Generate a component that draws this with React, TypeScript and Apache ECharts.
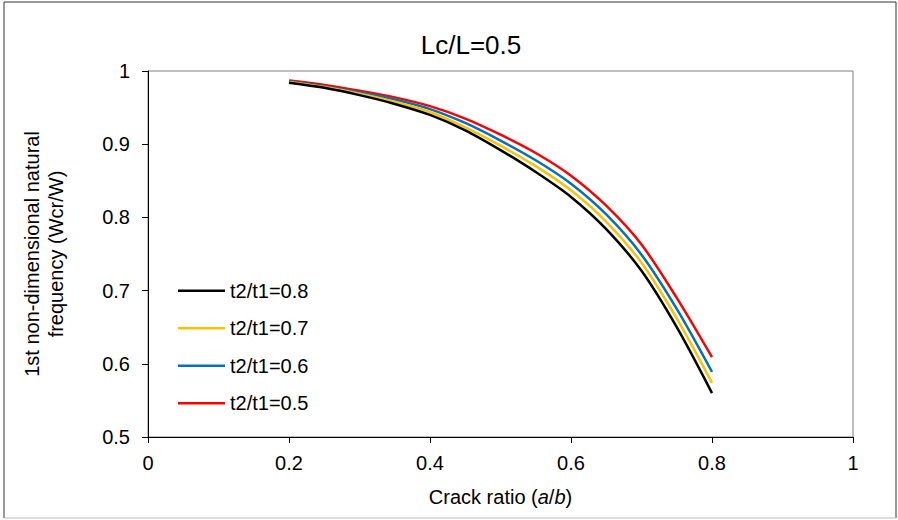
import React, { useEffect, useRef } from "react";
import * as echarts from "echarts";

const crackRatio = [0.2, 0.25, 0.3, 0.35, 0.4, 0.45, 0.5, 0.55, 0.6, 0.65, 0.7, 0.75, 0.8];
const seriesNames = ["t2/t1=0.8", "t2/t1=0.7", "t2/t1=0.6", "t2/t1=0.5"];
const t08 = [0.984, 0.977, 0.967, 0.955, 0.940, 0.919, 0.892, 0.862, 0.828, 0.784, 0.727, 0.65, 0.56];
const t07 = [0.985, 0.978, 0.969, 0.958, 0.944, 0.923, 0.898, 0.870, 0.837, 0.794, 0.738, 0.662, 0.574];
const t06 = [0.986, 0.979, 0.971, 0.961, 0.948, 0.929, 0.905, 0.878, 0.846, 0.804, 0.749, 0.675, 0.589];
const t05 = [0.987, 0.981, 0.973, 0.964, 0.952, 0.935, 0.913, 0.888, 0.857, 0.816, 0.763, 0.69, 0.609];
const colors = ["#000000", "#FFC000", "#0070C0", "#FF0000"];
const xTicks = { min: 0, max: 1, interval: 0.2 };
const yTicks = { min: 0.5, max: 1, interval: 0.1 };

const FONT = "'Liberation Sans', Arial, sans-serif";

export default function App() {
  const ref = useRef<HTMLDivElement>(null);
  useEffect(() => {
    if (!ref.current) return;
    const chart = echarts.init(ref.current, undefined, { renderer: "svg" });
    const all = [t08, t07, t06, t05];
    chart.setOption({
      animation: false,
      backgroundColor: "#ffffff",
      textStyle: { fontFamily: FONT },
      grid: {
        left: 148,
        right: 45,
        top: 71,
        bottom: 83,
        show: true,
        borderColor: "#808080",
        borderWidth: 1,
      },
      graphic: [
        { type: "line", shape: { x1: 4, y1: 2, x2: 896, y2: 2 }, style: { stroke: "#333", lineWidth: 1 } },
        { type: "line", shape: { x1: 4, y1: 2, x2: 4, y2: 518 }, style: { stroke: "#333", lineWidth: 1 } },
        { type: "line", shape: { x1: 896, y1: 2, x2: 896, y2: 518 }, style: { stroke: "#333", lineWidth: 1 } },
        { type: "line", shape: { x1: 4, y1: 518, x2: 896, y2: 518 }, style: { stroke: "#bbb", lineWidth: 1 } },
        {
          type: "text",
          x: 471,
          y: 45,
          style: {
            text: "Lc/L=0.5",
            fontSize: 26,
            fontFamily: FONT,
            fill: "#000",
            textAlign: "center",
            textVerticalAlign: "middle",
          },
        },
      ],
      legend: {
        orient: "vertical",
        left: 178,
        top: 279,
        icon: "rect",
        itemWidth: 47,
        itemHeight: 2.5,
        itemGap: 14,
        padding: 0,
        data: seriesNames,
        textStyle: { fontSize: 20, color: "#000", fontFamily: FONT, lineHeight: 23.5 },
      },
      xAxis: {
        type: "value",
        min: xTicks.min,
        max: xTicks.max,
        interval: xTicks.interval,
        name: "Crack ratio ({i|a}/{i|b})",
        nameLocation: "middle",
        nameGap: 50,
        nameTextStyle: {
          fontSize: 20,
          color: "#000",
          fontFamily: FONT,
          rich: { i: { fontStyle: "italic", fontSize: 20, fontFamily: FONT, color: "#000" } },
        },
        axisLine: { show: true, lineStyle: { color: "#000", width: 1 } },
        axisTick: { show: true, inside: false, length: 6, lineStyle: { color: "#000" } },
        axisLabel: { fontSize: 20, color: "#000", margin: 16, fontFamily: FONT },
        splitLine: { show: false },
      },
      yAxis: {
        type: "value",
        min: yTicks.min,
        max: yTicks.max,
        interval: yTicks.interval,
        name: "1st non-dimensional natural\nfrequency (Wcr/W)",
        nameLocation: "middle",
        nameGap: 80,
        nameTextStyle: { fontSize: 20, color: "#000", lineHeight: 24, fontFamily: FONT },
        axisLine: { show: true, lineStyle: { color: "#000", width: 1 } },
        axisTick: { show: true, inside: false, length: 6, lineStyle: { color: "#000" } },
        axisLabel: { fontSize: 20, color: "#000", margin: 18, fontFamily: FONT },
        splitLine: { show: false },
      },
      series: seriesNames.map((name, i) => ({
        name,
        type: "line",
        smooth: 0.3,
        symbol: "none",
        lineStyle: { color: colors[i], width: 2.5 },
        itemStyle: { color: colors[i] },
        z: 10 - i,
        data: crackRatio.map((x, j) => [x, all[i][j]]),
      })),
    });
    return () => chart.dispose();
  }, []);
  return (
    <div
      ref={ref}
      style={{ position: "absolute", left: 0, top: 0, width: 898, height: 520 }}
    />
  );
}
